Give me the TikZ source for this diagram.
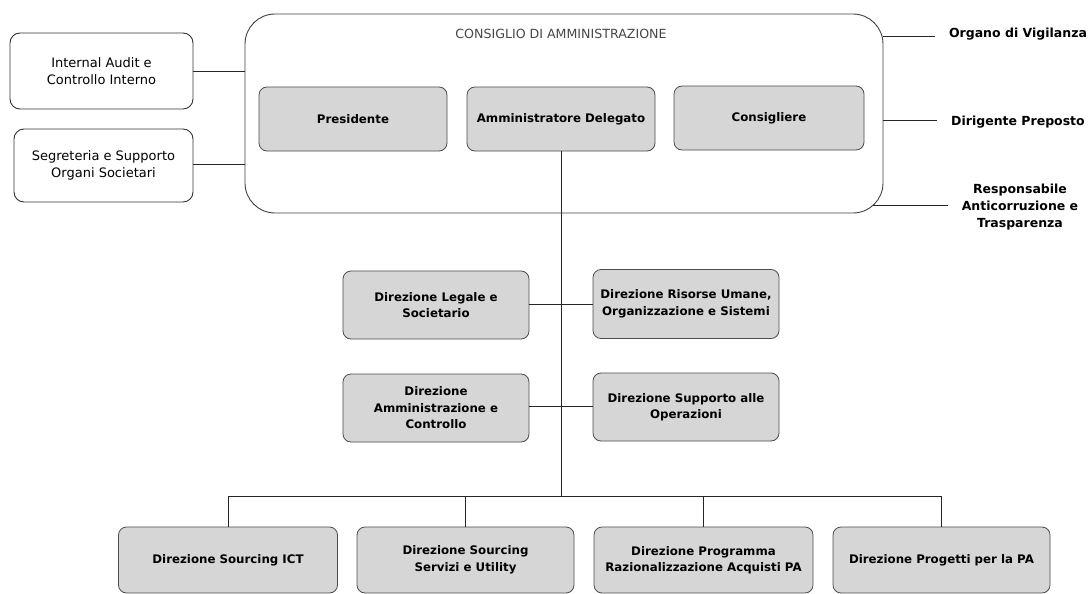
\documentclass[tikz,border=0pt]{standalone}
\usepackage{fontspec}
\setmainfont{DejaVu Sans}
\begin{document}
\begin{tikzpicture}[x=1pt,y=-1pt,
  conn/.style={line width=0.9pt, draw=black!85},
  bigbox/.style={draw=black!75, line width=0.9pt, rounded corners=30pt, fill=white, inner sep=0pt},
  sidebox/.style={draw=black!80, line width=0.9pt, rounded corners=10pt, fill=white, align=center,
    font=\fontsize{13}{17.5}\selectfont, inner sep=0pt},
  graybox/.style={draw=black!70, line width=0.8pt, rounded corners=8pt, fill=black!16, align=center,
    font=\fontsize{11.8}{16.5}\selectfont\bfseries, inner sep=0pt},
  sidelbl/.style={align=center, font=\fontsize{12.5}{17}\selectfont\bfseries, inner sep=0pt},
  titlelbl/.style={font=\fontsize{12.6}{15}\selectfont, text=black!72, inner sep=0pt}
]
\useasboundingbox (0,0) rectangle (1092,594);

% Consiglio di Amministrazione
\node[bigbox, minimum width=638pt, minimum height=199pt] (cda) at (564,113.5) {};
\node[titlelbl] (cdat) at (561,34) {CONSIGLIO DI AMMINISTRAZIONE};
\node[graybox, minimum width=188pt, minimum height=64pt] (pres) at (353,119) {Presidente};
\node[graybox, minimum width=188pt, minimum height=64pt] (amm) at (561,119) {Amministratore Delegato};
\node[graybox, minimum width=190pt, minimum height=64pt] (cons) at (769,118) {Consigliere};

% left boxes
\node[sidebox, minimum width=183pt, minimum height=76pt] (ia) at (101.5,71) {Internal Audit e\\Controllo Interno};
\node[sidebox, minimum width=179pt, minimum height=73pt] (seg) at (103.5,165.5) {Segreteria e Supporto\\Organi Societari};
\draw[conn] (ia.east |- 0,71) -- (cda.west |- 0,71);
\draw[conn] (seg.east |- 0,164) -- (cda.west |- 0,164);

% right labels
\node[sidelbl] (org) at (1018,34) {Organo di Vigilanza};
\node[sidelbl] (dir) at (1018,122) {Dirigente Preposto};
\node[sidelbl] (resp) at (1020,207) {Responsabile\\Anticorruzione e\\Trasparenza};
\coordinate (orgend) at (935,36);
\coordinate (dirend) at (937,120);
\coordinate (respstart) at (873,205);
\coordinate (respend) at (948,205);
\draw[conn] (cda.east |- orgend) -- (orgend);
\draw[conn] (cda.east |- dirend) -- (dirend);
\draw[conn] (respstart) -- (respend);

% middle directions
\node[graybox, minimum width=186pt, minimum height=68pt] (leg) at (436,305) {Direzione Legale e\\Societario};
\node[graybox, minimum width=186pt, minimum height=69pt] (risu) at (686,304) {Direzione Risorse Umane,\\Organizzazione e Sistemi};
\node[graybox, minimum width=186pt, minimum height=68pt] (amco) at (436,408) {Direzione\\Amministrazione e\\Controllo};
\node[graybox, minimum width=186pt, minimum height=68pt] (supo) at (686,407) {Direzione Supporto alle\\Operazioni};

% bottom directions
\node[graybox, minimum width=219pt, minimum height=66pt] (ict) at (228,560) {Direzione Sourcing ICT};
\node[graybox, minimum width=217pt, minimum height=66pt] (serv) at (465.5,560) {Direzione Sourcing\\Servizi e Utility};
\node[graybox, minimum width=219pt, minimum height=66pt] (prog) at (703.5,560) {Direzione Programma\\Razionalizzazione Acquisti PA};
\node[graybox, minimum width=217pt, minimum height=66pt] (proj) at (941.5,560) {Direzione Progetti per la PA};

% trunk and bus
\coordinate (bus) at (561,496);
\draw[conn] (amm.south) -- (bus);
\draw[conn] (leg.east |- 0,304) -- (risu.west |- 0,304);
\draw[conn] (amco.east |- 0,406) -- (supo.west |- 0,406);
\draw[conn] (ict.north |- bus) -- (proj.north |- bus);
\draw[conn] (ict.north |- bus) -- (ict.north);
\draw[conn] (serv.north |- bus) -- (serv.north);
\draw[conn] (prog.north |- bus) -- (prog.north);
\draw[conn] (proj.north |- bus) -- (proj.north);
\end{tikzpicture}
\end{document}
